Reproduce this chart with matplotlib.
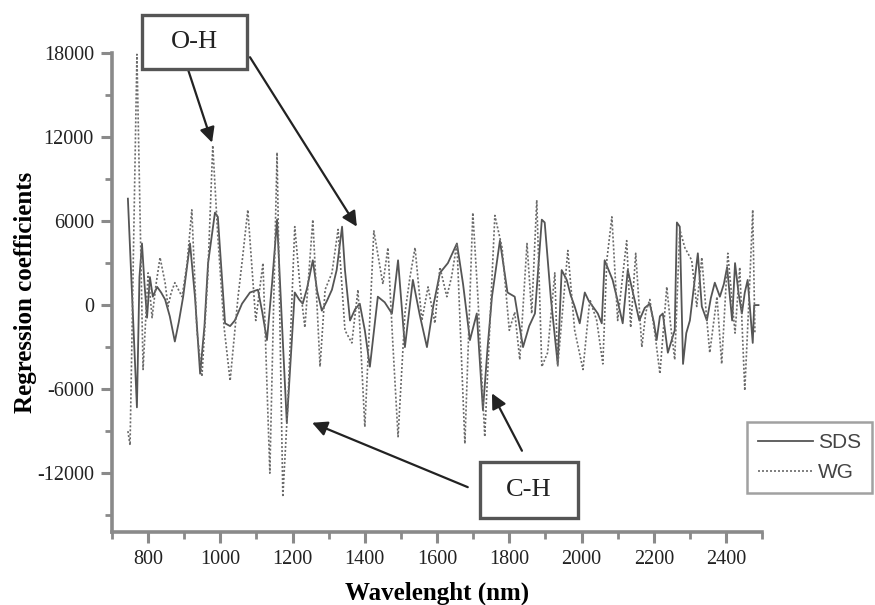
#!/usr/bin/env python3
"""PLS regression coefficients for SDS and WG over the NIR range."""
import matplotlib

matplotlib.use("Agg")
import matplotlib.pyplot as plt
from matplotlib.patches import Rectangle
from matplotlib.ticker import MultipleLocator

# SDS (solid) – wavelength (nm) / coefficient
sds_wl = [744, 769, 776, 783, 790, 797, 805, 813, 825, 836, 847, 860, 874, 885,
          897, 916, 930, 944, 956, 966, 985, 993, 1003, 1013, 1027, 1040, 1060,
          1082, 1104, 1116, 1129, 1143, 1157, 1170, 1184, 1206, 1218, 1228, 1240,
          1256, 1268, 1281, 1295, 1309, 1322, 1337, 1345, 1359, 1373, 1386, 1400,
          1414, 1436, 1455, 1475, 1492, 1511, 1533, 1552, 1572, 1590, 1608, 1630,
          1655, 1672, 1691, 1710, 1727, 1740, 1752, 1774, 1795, 1815, 1838, 1855,
          1871, 1890, 1898, 1915, 1934, 1945, 1959, 1970, 1981, 1995, 2009, 2020,
          2031, 2045, 2056, 2064, 2075, 2086, 2100, 2114, 2128, 2145, 2160, 2175,
          2189, 2200, 2208, 2217, 2225, 2239, 2258, 2264, 2272, 2281, 2290, 2300,
          2312, 2322, 2333, 2347, 2358, 2369, 2383, 2394, 2403, 2417, 2425, 2435,
          2444, 2452, 2460, 2474, 2478, 2490]
sds_val = [7600, -7300, 2000, 4400, 1500, -900, 2000, 600, 1300, 900, 400, -800,
           -2600, -1200, 600, 4400, 500, -4900, -1500, 3000, 6600, 6300, 2500,
           -1300, -1500, -1100, 100, 900, 1100, -500, -2500, 1500, 6100, -1000,
           -8400, 900, 400, 100, 1200, 3200, 1000, -400, 300, 1100, 2500, 5600,
           2500, -1100, -300, 100, -1800, -4400, 600, 200, -600, 3200, -3000, 1800,
           -700, -3000, 0, 2300, 3000, 4400, 1500, -2500, -600, -7500, -3000, 600,
           4600, 900, 600, -3000, -1500, -600, 6100, 5900, 500, -4200, 2500, 1800,
           700, -100, -1300, 900, 300, -100, -600, -1300, 3200, 2500, 1800, 300,
           -1300, 2500, 600, -1100, -200, 100, -1200, -2500, -800, -600, -3400,
           -1800, 5900, 5600, -4200, -2000, -1100, 1500, 3700, -100, -1100, 500,
           1600, 600, 1500, 2700, -1100, 3000, 800, -600, 900, 1800, -2700, 0, 0]

# WG (dotted)
wg_wl = [744, 750, 769, 786, 800, 811, 822, 833, 847, 855, 864, 874, 894, 908,
         921, 935, 949, 965, 979, 993, 1010, 1027, 1049, 1062, 1076, 1098, 1118,
         1137, 1157, 1173, 1187, 1206, 1220, 1234, 1256, 1276, 1290, 1309, 1326,
         1345, 1364, 1381, 1400, 1425, 1450, 1464, 1477, 1492, 1511, 1525, 1539,
         1558, 1575, 1594, 1608, 1627, 1640, 1655, 1677, 1699, 1713, 1732, 1760,
         1780, 1800, 1815, 1829, 1849, 1862, 1876, 1890, 1906, 1926, 1934, 1962,
         1981, 2004, 2023, 2042, 2059, 2070, 2084, 2100, 2125, 2136, 2150, 2167,
         2178, 2189, 2203, 2217, 2236, 2247, 2258, 2272, 2286, 2305, 2319, 2333,
         2345, 2355, 2375, 2388, 2405, 2425, 2438, 2452, 2466, 2474, 2480]
wg_val = [-9000, -10000, 17900, -4600, 2300, -900, 1500, 3400, 1600, -100, 900,
          1600, 600, 3000, 6800, -1800, -5100, 2000, 11400, 4900, -1500, -5400,
          600, 3500, 6800, -1100, 3000, -12000, 10900, -13700, -7000, 5600, 1500,
          -1600, 6100, -4400, 1100, 2300, 5400, -1800, -2700, 1100, -8700, 5300,
          1500, 4100, -2500, -9400, -600, 2000, 4100, -1100, 1300, -1300, 2700,
          600, 2000, 4400, -9900, 6600, 600, -9400, 6400, 4100, -1800, -500,
          -3900, 4400, -600, 7500, -4400, -3400, 2300, -4400, 3900, -1800, -4600,
          400, -1100, -4200, 3200, 6300, -1100, 4600, -1600, 3700, -3000, -500,
          400, -2000, -4900, 1300, -1500, -3900, 5400, 4100, 3200, -100, 3400,
          -500, -3400, 600, -4200, 3700, -2000, 2700, -6100, 1800, 6800, -2000]

series_labels = ["SDS", "WG"]
x_ticks = [800, 1000, 1200, 1400, 1600, 1800, 2000, 2200, 2400]
y_ticks = [-12000, -6000, 0, 6000, 12000, 18000]

SERIF = ["Liberation Serif", "DejaVu Serif"]
AXIS_GRAY = "#8a8a8a"

plt.rcParams["axes.unicode_minus"] = False


def label_box(ax, x0, x1, y0, y1, text):
    """Boxed annotation label drawn outside the clip region."""
    ax.add_patch(Rectangle((x0, y0), x1 - x0, y1 - y0, facecolor="white",
                           edgecolor="#555555", linewidth=2.4, clip_on=False,
                           zorder=5))
    ax.text((x0 + x1) / 2, (y0 + y1) / 2, text, family=SERIF, fontsize=19,
            ha="center", va="center", color="#222222", clip_on=False, zorder=6)


def main() -> None:
    fig = plt.figure(figsize=(8.75, 6.05), dpi=100)
    ax = fig.add_axes([0.128, 0.1207, 0.743, 0.7917])

    ax.plot(sds_wl, sds_val, color="#555555", linewidth=1.3, label=series_labels[0])
    ax.plot(wg_wl, wg_val, color="#6a6a6a", linewidth=1.2,
            linestyle=(0, (1.2, 1.2)), label=series_labels[1])

    ax.set_xlim(700, 2500)
    ax.set_ylim(-16200, 18000)
    ax.set_xticks(x_ticks)
    ax.set_yticks(y_ticks)
    ax.xaxis.set_minor_locator(MultipleLocator(100))
    ax.yaxis.set_minor_locator(MultipleLocator(3000))

    for side in ("top", "right"):
        ax.spines[side].set_visible(False)
    for side in ("left", "bottom"):
        ax.spines[side].set_color(AXIS_GRAY)
        ax.spines[side].set_linewidth(2.6)

    ax.tick_params(which="major", direction="out", length=8, width=2.2,
                   color=AXIS_GRAY, labelsize=14.5, labelcolor="#222222", pad=5)
    ax.tick_params(which="minor", direction="out", length=5, width=2.0,
                   color=AXIS_GRAY)
    for lab in ax.get_xticklabels() + ax.get_yticklabels():
        lab.set_family(SERIF)

    ax.set_xlabel("Wavelenght (nm)", family=SERIF, fontsize=18,
                  fontweight="bold", labelpad=9)
    ax.set_ylabel("Regression coefficients", family=SERIF, fontsize=18,
                  fontweight="bold")
    ax.yaxis.set_label_coords(-0.116, 0.5)

    arrow = dict(arrowstyle="-|>,head_length=0.9,head_width=0.45",
                 color="#222222", linewidth=1.6, shrinkA=0, shrinkB=0)

    # O-H label with two arrows
    label_box(ax, 783, 1074, 16860, 20700, "O-H")
    ax.annotate("", xy=(977, 11600), xytext=(910, 16860), arrowprops=arrow,
                annotation_clip=False)
    ax.annotate("", xy=(1378, 5600), xytext=(1082, 17700), arrowprops=arrow,
                annotation_clip=False)

    # C-H label with two arrows
    label_box(ax, 1719, 1990, -15200, -11200, "C-H")
    ax.annotate("", xy=(1254, -8400), xytext=(1685, -13000), arrowprops=arrow,
                annotation_clip=False)
    ax.annotate("", xy=(1752, -6300), xytext=(1835, -10400), arrowprops=arrow,
                annotation_clip=False)

    leg = fig.legend(loc="upper left", bbox_to_anchor=(747 / 875, 1 - 422 / 605),
                     borderaxespad=0, frameon=True, fancybox=False,
                     handlelength=2.6, handletextpad=0.25, borderpad=0.55,
                     labelspacing=0.5,
                     prop={"family": ["Liberation Sans", "DejaVu Sans"], "size": 15})
    leg.get_frame().set_edgecolor(AXIS_GRAY)
    leg.get_frame().set_linewidth(1.8)
    for txt in leg.get_texts():
        txt.set_color("#444444")

    fig.savefig("out.png", dpi=100)
    plt.close(fig)


if __name__ == "__main__":
    main()
